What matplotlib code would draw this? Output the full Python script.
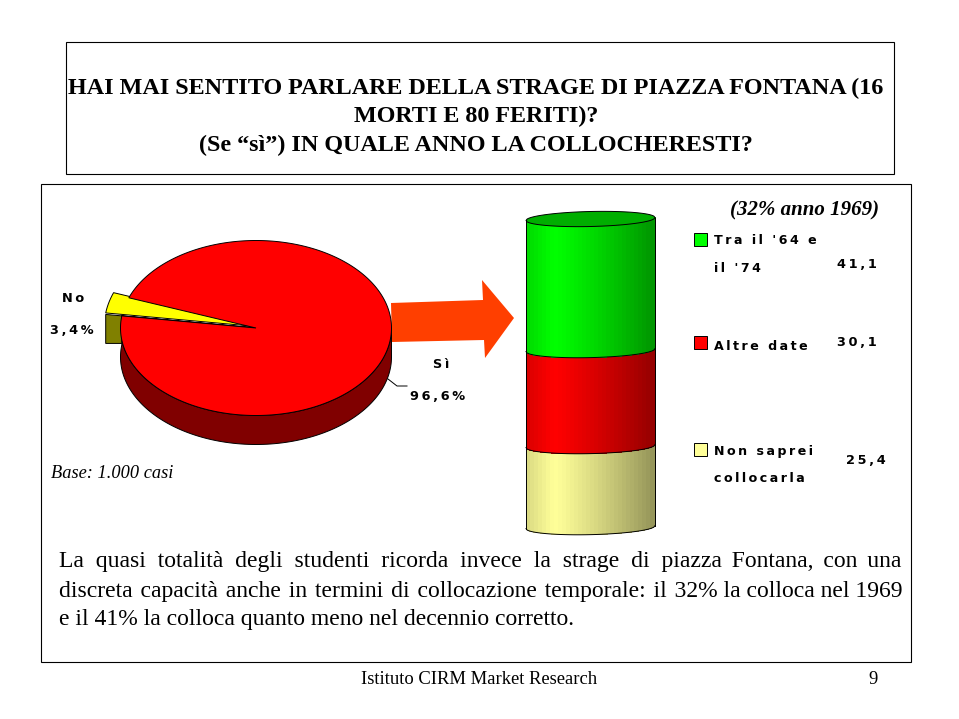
import numpy as np
import matplotlib
matplotlib.use("Agg")
import matplotlib.pyplot as plt
from matplotlib.patches import Polygon, Rectangle
from matplotlib import font_manager as fm

# ---- data ----
pie_labels = ["Sì", "No"]
pie_values = [96.6, 3.4]
pie_texts = ["96,6%", "3,4%"]
cyl_labels = [["Tra il '64 e", "il '74"], ["Altre date"], ["Non saprei", "collocarla"]]
cyl_values = [41.1, 30.1, 25.4]
cyl_texts = ["41,1", "30,1", "25,4"]
title_lines = ["HAI MAI SENTITO PARLARE DELLA STRAGE DI PIAZZA FONTANA (16",
               "MORTI E 80 FERITI)?",
               "(Se “sì”) IN QUALE ANNO LA COLLOCHERESTI?"]
body_lines = ["La quasi totalità degli studenti ricorda invece la strage di piazza Fontana, con una",
              "discreta capacità anche in termini di collocazione temporale: il 32% la colloca nel 1969",
              "e il 41% la colloca quanto meno nel decennio corretto."]
note_text = "(32% anno 1969)"
base_text = "Base: 1.000 casi"
footer_text = "Istituto CIRM Market Research"
page_text = "9"

W, H = 959, 719
fig = plt.figure(figsize=(W / 100, H / 100), dpi=100, facecolor="white")
ax = fig.add_axes([0, 0, 1, 1])
ax.set_xlim(0, W)
ax.set_ylim(H, 0)
ax.axis("off")

SERIF = "Liberation Serif"
SANS = "DejaVu Sans"

def spaced(s):
    return "\u2009".join(s)

# frames
ax.add_patch(Rectangle((66, 42), 828, 132, fc="white", ec="black", lw=0.8))
ax.add_patch(Rectangle((41, 184), 870, 478, fc="white", ec="black", lw=0.8))

for y, line in zip([88, 116, 145], title_lines):
    ax.text(476, y, line, family=SERIF, weight="bold", fontsize=17.4, ha="center", va="center")

# ---- pie ----
cx, cy, rx, ry, depth = 256, 328, 135.5, 87.5, 29
pull = 1.12
no_start = 159.8
no_sweep = 360 * pie_values[1] / sum(pie_values)
no_end = no_start + no_sweep
yes_end = no_end + 360 * pie_values[0] / sum(pie_values)

def ell(a, r=1.0, dy=0.0):
    a = np.radians(a)
    return np.column_stack([cx + r * rx * np.cos(a), cy + dy - r * ry * np.sin(a)])

# side of the large slice
a_side = np.linspace(no_end, 360, 120)
side = np.vstack([ell(a_side), ell(a_side[::-1], dy=depth)])
ax.add_patch(Polygon(side, fc="#800000", ec="black", lw=0.7, zorder=2))
# side of the small slice
tip = ell(np.array([no_end]), pull)[0]
edge = ell(np.array([no_end]))[0]
ax.add_patch(Polygon([tip, tip + [0, depth], [edge[0], tip[1] + depth], edge, [cx, cy]],
                     fc="#808000", ec="black", lw=0.7, zorder=2))
# small slice, lifted a little so that its side shows under it
wedge = np.vstack([[cx, cy], ell(np.linspace(no_start, no_end, 8), pull)]) + [0, -1.5]
ax.add_patch(Polygon(wedge, fc="#FFFF00", ec="black", lw=0.7, zorder=3))
# large slice top
ax.add_patch(Polygon(np.vstack([[cx, cy], ell(np.linspace(no_end, yes_end, 300))]),
                     fc="#FF0000", ec="black", lw=0.7, zorder=4))
ax.plot([388, 397, 407], [379, 386, 386], color="black", lw=0.7, zorder=5)

lab = dict(family=SANS, weight="bold", fontsize=9.3, ha="center", va="center")
ax.text(73, 299, spaced(pie_labels[1]), **lab)
ax.text(72, 331, spaced(pie_texts[1]), **lab)
ax.text(441, 365, spaced(pie_labels[0]), **lab)
ax.text(438, 397, spaced(pie_texts[0]), **lab)
ax.text(51, 473, base_text, family=SERIF, style="italic", fontsize=13.2, ha="left", va="center")

# arrow
ax.add_patch(Polygon([(391, 303), (483, 300), (482, 280), (514, 318), (485, 358), (484, 340), (392, 342)],
                     fc="#FF3F00", ec="none", zorder=1))

# ---- cylinder ----
xl, xr, ytop, cry, tilt = 526, 655, 219, 7.5, -0.023
xm = (xl + xr) / 2
crx = (xr - xl) / 2
scale = 3.19
bounds = ytop + scale * np.concatenate([[0], np.cumsum(cyl_values)])
colors = [(0, 255, 0), (255, 0, 0), (255, 255, 153)]
n = 32
edges = np.linspace(xl, xr, n + 1)

def low(x, y0):
    return y0 + tilt * (x - xm) + cry * np.sqrt(np.clip(1 - ((x - xm) / crx) ** 2, 0, 1))

def high(x, y0):
    return y0 + tilt * (x - xm) - cry * np.sqrt(np.clip(1 - ((x - xm) / crx) ** 2, 0, 1))

def shade(u, base):
    f = 0.85 + 0.15 * u / 0.22 if u < 0.22 else 1 - 0.42 * ((u - 0.22) / 0.78) ** 1.15
    return tuple(min(1, f * c / 255) for c in base)

for i, base in enumerate(colors):
    for j in range(n):
        xs = np.linspace(edges[j], edges[j + 1] + 0.5, 5)
        top = low(xs, bounds[i])
        bot = low(xs, bounds[i + 1])
        ax.add_patch(Polygon(np.vstack([np.column_stack([xs, top]),
                                        np.column_stack([xs[::-1], bot[::-1]])]),
                             fc=shade((j + 0.5) / n, base), ec="none", antialiased=False,
                             zorder=2 + 0.1 * (3 - i)))
    xs = np.linspace(xl, xr, 120)
    ax.plot(xs, low(xs, bounds[i + 1]), color="black", lw=0.7, zorder=3)

xs = np.linspace(xl, xr, 120)
top_ell = np.vstack([np.column_stack([xs, high(xs, ytop)]), np.column_stack([xs[::-1], low(xs[::-1], ytop)])])
ax.add_patch(Polygon(top_ell, fc="#00AE00", ec="black", lw=0.7, zorder=3))
ax.plot([xl, xl], [low(xl, ytop), low(xl, bounds[-1])], color="black", lw=0.7, zorder=3)
ax.plot([xr, xr], [low(xr, ytop), low(xr, bounds[-1])], color="black", lw=0.7, zorder=3)

# ---- legend ----
sq_y = [233, 336, 443]
line_y = [[241, 268], [346], [451, 478]]
val_pos = [(857, 265), (857, 342), (866, 460)]
for i, base in enumerate(colors):
    ax.add_patch(Rectangle((694, sq_y[i]), 12.5, 13, fc=tuple(c / 255 for c in base), ec="black", lw=0.7))
    for y, s in zip(line_y[i], cyl_labels[i]):
        ax.text(714, y, spaced(s), family=SANS, weight="bold", fontsize=9.1, ha="left", va="center")
    ax.text(*val_pos[i], spaced(cyl_texts[i]), family=SANS, weight="bold", fontsize=9.3, ha="center", va="center")

bi = fm.FontProperties(fname=fm.findfont(fm.FontProperties(family=SERIF, style="italic", weight="bold")), size=15)
ax.text(805, 210, note_text, fontproperties=bi, ha="center", va="center")

# ---- body text, justified by widening word gaps one at a time ----
renderer = fig.canvas.get_renderer()
for y, line, just in zip([562, 591, 620], body_lines, [True, True, False]):
    t = ax.text(59, y, line, family=SERIF, fontsize=17.0, ha="left", va="center")
    if just:
        words = line.split(" ")
        gaps = [0] * (len(words) - 1)
        k = 0
        for _ in range(200):
            if t.get_window_extent(renderer).x1 >= 901:
                break
            gaps[k % len(gaps)] += 1
            k += 1
            s = words[0]
            for g, w in zip(gaps, words[1:]):
                s += " " + "\u200a" * g + w
            t.set_text(s)

ax.text(479, 680, footer_text, family=SERIF, fontsize=13.4, ha="center", va="center")
ax.text(873, 680, page_text, family=SERIF, fontsize=13.4, ha="center", va="center")

fig.savefig("out.png", dpi=100)
